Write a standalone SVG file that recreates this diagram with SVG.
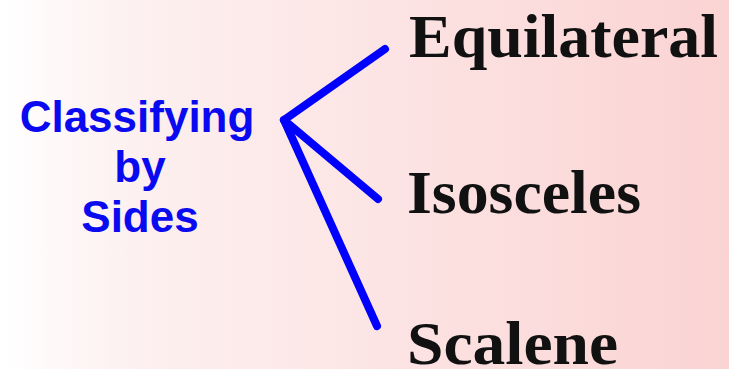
<svg xmlns="http://www.w3.org/2000/svg" width="729" height="369" viewBox="0 0 729 369">
<defs>
<linearGradient id="bg" x1="0" y1="0" x2="1" y2="0">
<stop offset="0" stop-color="#ffffff"/>
<stop offset="0.18" stop-color="#fdf0f0"/>
<stop offset="1" stop-color="#fbd3d3"/>
</linearGradient>
<style>
.hub{font-family:"Liberation Sans",Arial,sans-serif;font-weight:bold;font-size:44px;fill:#0a0af0;text-anchor:middle}
.leaf{font-family:"Liberation Serif","Times New Roman",serif;font-weight:bold;font-size:62px;fill:#111111}
.edge{stroke:#0000ff;stroke-width:8;stroke-linecap:round;stroke-linejoin:round;fill:none}
</style>
</defs>
<rect width="729" height="369" fill="url(#bg)"/>
<g id="hub">
<text class="hub" x="137" y="132">Classifying</text>
<text class="hub" x="140" y="182">by</text>
<text class="hub" x="140" y="232">Sides</text>
</g>
<g id="connectors">
<line class="edge" x1="284" y1="120" x2="385" y2="49"/>
<line class="edge" x1="284" y1="120" x2="378" y2="199"/>
<line class="edge" x1="284" y1="120" x2="377" y2="326"/>
</g>
<g id="equilateral"><text class="leaf" x="409" y="57" textLength="309" lengthAdjust="spacingAndGlyphs">Equilateral</text></g>
<g id="isosceles"><text class="leaf" x="407" y="213" textLength="234" lengthAdjust="spacingAndGlyphs">Isosceles</text></g>
<g id="scalene"><text class="leaf" x="407" y="364" textLength="211" lengthAdjust="spacingAndGlyphs">Scalene</text></g>
</svg>
